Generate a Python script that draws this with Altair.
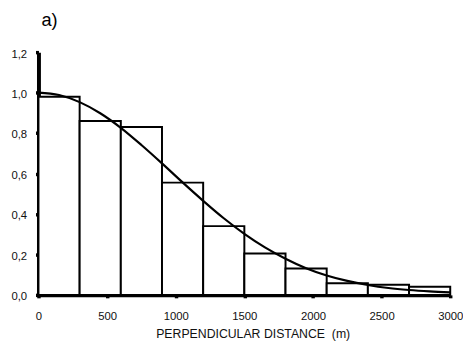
import altair as alt
import pandas as pd

bin_start = [0, 300, 600, 900, 1200, 1500, 1800, 2100, 2400, 2700]
bin_end = [300, 600, 900, 1200, 1500, 1800, 2100, 2400, 2700, 3000]
bar_height = [0.98, 0.86, 0.83, 0.555, 0.34, 0.205, 0.13, 0.058, 0.05, 0.04]

curve_x = [0, 150, 300, 450, 600, 750, 900, 1050, 1200, 1350, 1500,
           1650, 1800, 1950, 2100, 2250, 2400, 2550, 2700, 2850, 3000]
curve_y = [1.0, 0.988, 0.953, 0.898, 0.826, 0.741, 0.65, 0.556, 0.465, 0.379, 0.302,
           0.235, 0.179, 0.132, 0.096, 0.069, 0.049, 0.034, 0.024, 0.017, 0.012]

x_ticks = [0, 500, 1000, 1500, 2000, 2500, 3000]
y_ticks = [0, 0.2, 0.4, 0.6, 0.8, 1.0, 1.2]

bars = pd.DataFrame({"start": bin_start, "end": bin_end, "h": bar_height})
curve = pd.DataFrame({"d": curve_x, "g": curve_y})

FONT = "Liberation Sans"

xscale = alt.Scale(domain=[0, 3000], nice=False, zero=False)
yscale = alt.Scale(domain=[0, 1.2], nice=False)

common = dict(grid=False, domainColor="#000000", domainWidth=4,
              tickColor="#000000", tickWidth=3.5, tickSize=3, labelFlush=False,
              labelFont=FONT, labelFontSize=11.5, labelColor="#111")

xaxis = alt.Axis(values=x_ticks, format="d",
                 title="PERPENDICULAR DISTANCE\u00a0\u00a0(m)", titleX=218,
                 titleFont=FONT, titleFontSize=12.5, titleFontWeight="normal",
                 titleColor="#111", labelPadding=13, titlePadding=6, **common)
yaxis = alt.Axis(values=y_ticks, format=".1f",
                 labelExpr="replace(datum.label, '.', ',')", title=None,
                 labelPadding=9, labelOffset=2, **common)

bar_layer = alt.Chart(bars).mark_rect(fill="white", stroke="black", strokeWidth=2).encode(
    x=alt.X("start:Q", scale=xscale, axis=xaxis),
    x2="end:Q",
    y=alt.Y("h:Q", scale=yscale, axis=yaxis),
    y2=alt.datum(0),
)

line_layer = alt.Chart(curve).mark_line(color="black", strokeWidth=2.2, interpolate="monotone").encode(
    x=alt.X("d:Q", scale=xscale, axis=xaxis),
    y=alt.Y("g:Q", scale=yscale, axis=yaxis),
)

chart = alt.layer(bar_layer, line_layer).properties(
    width=419, height=247,
    title=alt.TitleParams("a)", anchor="start", frame="group", dx=3, offset=19,
                          font=FONT, fontSize=18.5, fontWeight="normal", color="black"),
    autosize=alt.AutoSizeParams(type="none"),
    padding={"left": 31, "top": 42, "right": 13, "bottom": 44},
).configure_view(stroke=None).configure_axis(zindex=1)

chart.save("out.html", embed_options={"renderer": "svg", "actions": False})
